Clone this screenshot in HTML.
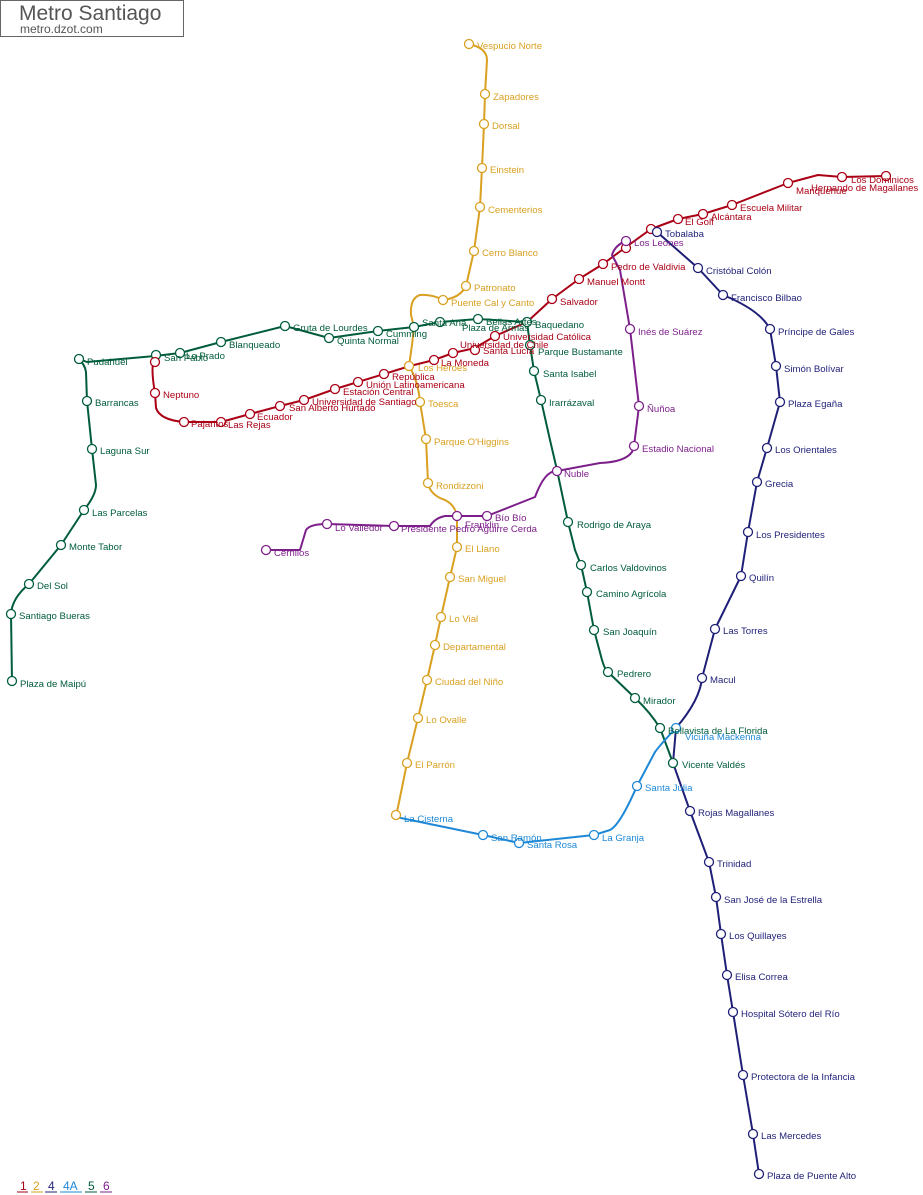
<!DOCTYPE html>
<html><head><meta charset="utf-8"><style>
html,body{margin:0;padding:0;background:#fff;}
svg{display:block;font-family:"Liberation Sans",sans-serif;font-size:9.6px;}
.st{fill:#fff;stroke-width:1.3;}
.ln{fill:none;stroke-width:2;stroke-linejoin:round;stroke-linecap:round;}
</style></head><body>
<svg width="923" height="1195" viewBox="0 0 923 1195" xmlns="http://www.w3.org/2000/svg">
<rect x="0.5" y="0.5" width="183" height="36" fill="#fff" stroke="#666"/>
<text x="19" y="20" font-size="21" fill="#555">Metro Santiago</text>
<text x="20" y="33" font-size="12" fill="#555">metro.dzot.com</text>

<!-- Line 5 green -->
<path class="ln" stroke="#005c3a" d="M12,681 L11,614 Q12,598 29,584 L61,545 L84,510 Q96,495 96,485 L92,449 L87,401 L86,372 Q85,365 79,359 M79,359 L87,362 L155,356 L180,353 L221,342 L285,326 L329,338 L378,331 L414,327 L440,322 L478,319 L527,322 L530,345 L534,371 L541,400 L550,440 L557,470 L568,522 L575,550 L581,565 L587,592 L594,630 L602,660 Q605,670 608,672 L635,698 Q650,712 660,728 L673,763"/>
<!-- Line 1 red -->
<path class="ln" stroke="#aa0016" d="M155,357 Q150,365 155,393 L156,408 Q160,420 184,422 L221,422 L250,414 L280,406 L304,400 L335,389 L358,382 L384,374 L410,366 L434,360 L453,353 L475,348 L495,336 L527,322 L552,299 L579,279 L603,264 L626,247 L651,229 L678,219 L703,214 L732,205 L788,183 L818,175 L842,177 L886,176"/>
<!-- Line 2 gold -->
<path class="ln" stroke="#d9a021" d="M469,44 Q487,48 487,60 L485,94 L484,124 L482,168 L480,207 L474,251 L466,286 Q460,298 443,300 Q432,294 420,295 Q410,298 411,315 L414,327 L412,345 L409,366 Q418,380 420,402 L426,439 L428,483 Q430,495 445,500 Q455,505 457,516 L457,547 L450,577 L441,617 L435,645 L427,680 L418,718 L407,763 L396,817"/>
<!-- Line 6 purple -->
<path class="ln" stroke="#7d1f8a" d="M266,550 L300,550 L306,530 Q310,524 327,524 L394,526 L430,526 Q435,518 445,516 L457,516 L487,516 L535,497 Q545,470 557,471 L600,463 Q625,462 632,452 L634,446 L639,406 L630,329 L620,270 L612,255 Q615,245 626,241"/>
<!-- Line 4 navy -->
<path class="ln" stroke="#1f1f78" d="M657,232 L698,268 L723,295 Q760,310 770,329 L776,366 L780,402 L767,448 L757,482 L748,532 L741,576 L715,629 L702,678 Q700,700 676,728 L673,763 L690,811 L709,862 L716,897 L721,934 L727,975 L733,1012 L743,1075 L753,1134 L759,1174"/>
<!-- Line 4A blue -->
<path class="ln" stroke="#1e88d6" d="M676,728 Q660,745 655,752 L637,786 Q620,825 610,830 L594,835 L519,843 L483,835 L396,817"/>

<g class="st" stroke="#005c3a">
<circle cx="12" cy="681" r="4.5"/><circle cx="11" cy="614" r="4.5"/><circle cx="29" cy="584" r="4.5"/><circle cx="61" cy="545" r="4.5"/><circle cx="84" cy="510" r="4.5"/><circle cx="92" cy="449" r="4.5"/><circle cx="87" cy="401" r="4.5"/><circle cx="79" cy="359" r="4.5"/><circle cx="156" cy="355" r="4.5"/><circle cx="180" cy="353" r="4.5"/><circle cx="221" cy="342" r="4.5"/><circle cx="285" cy="326" r="4.5"/><circle cx="329" cy="338" r="4.5"/><circle cx="378" cy="331" r="4.5"/><circle cx="414" cy="327" r="4.5"/><circle cx="440" cy="322" r="4.5"/><circle cx="478" cy="319" r="4.5"/><circle cx="527" cy="322" r="4.5"/><circle cx="530" cy="345" r="4.5"/><circle cx="534" cy="371" r="4.5"/><circle cx="541" cy="400" r="4.5"/><circle cx="568" cy="522" r="4.5"/><circle cx="581" cy="565" r="4.5"/><circle cx="587" cy="592" r="4.5"/><circle cx="594" cy="630" r="4.5"/><circle cx="608" cy="672" r="4.5"/><circle cx="635" cy="698" r="4.5"/><circle cx="660" cy="728" r="4.5"/><circle cx="673" cy="763" r="4.5"/>
</g>
<g class="st" stroke="#aa0016">
<circle cx="155" cy="362" r="4.5"/><circle cx="155" cy="393" r="4.5"/><circle cx="184" cy="422" r="4.5"/><circle cx="221" cy="422" r="4.5"/><circle cx="250" cy="414" r="4.5"/><circle cx="280" cy="406" r="4.5"/><circle cx="304" cy="400" r="4.5"/><circle cx="335" cy="389" r="4.5"/><circle cx="358" cy="382" r="4.5"/><circle cx="384" cy="374" r="4.5"/><circle cx="434" cy="360" r="4.5"/><circle cx="453" cy="353" r="4.5"/><circle cx="475" cy="350" r="4.5"/><circle cx="495" cy="336" r="4.5"/><circle cx="552" cy="299" r="4.5"/><circle cx="579" cy="279" r="4.5"/><circle cx="603" cy="264" r="4.5"/><circle cx="626" cy="248" r="4.5"/><circle cx="651" cy="229" r="4.5"/><circle cx="678" cy="219" r="4.5"/><circle cx="703" cy="214" r="4.5"/><circle cx="732" cy="205" r="4.5"/><circle cx="788" cy="183" r="4.5"/><circle cx="842" cy="177" r="4.5"/><circle cx="886" cy="176" r="4.5"/>
</g>
<g class="st" stroke="#d9a021">
<circle cx="469" cy="44" r="4.5"/><circle cx="485" cy="94" r="4.5"/><circle cx="484" cy="124" r="4.5"/><circle cx="482" cy="168" r="4.5"/><circle cx="480" cy="207" r="4.5"/><circle cx="474" cy="251" r="4.5"/><circle cx="466" cy="286" r="4.5"/><circle cx="443" cy="300" r="4.5"/><circle cx="409" cy="366" r="4.5"/><circle cx="420" cy="402" r="4.5"/><circle cx="426" cy="439" r="4.5"/><circle cx="428" cy="483" r="4.5"/><circle cx="457" cy="547" r="4.5"/><circle cx="450" cy="577" r="4.5"/><circle cx="441" cy="617" r="4.5"/><circle cx="435" cy="645" r="4.5"/><circle cx="427" cy="680" r="4.5"/><circle cx="418" cy="718" r="4.5"/><circle cx="407" cy="763" r="4.5"/><circle cx="396" cy="815" r="4.5"/>
</g>
<g class="st" stroke="#7d1f8a">
<circle cx="266" cy="550" r="4.5"/><circle cx="327" cy="524" r="4.5"/><circle cx="394" cy="526" r="4.5"/><circle cx="457" cy="516" r="4.5"/><circle cx="487" cy="516" r="4.5"/><circle cx="557" cy="471" r="4.5"/><circle cx="634" cy="446" r="4.5"/><circle cx="639" cy="406" r="4.5"/><circle cx="630" cy="329" r="4.5"/><circle cx="626" cy="241" r="4.5"/>
</g>
<g class="st" stroke="#1f1f78">
<circle cx="657" cy="232" r="4.5"/><circle cx="698" cy="268" r="4.5"/><circle cx="723" cy="295" r="4.5"/><circle cx="770" cy="329" r="4.5"/><circle cx="776" cy="366" r="4.5"/><circle cx="780" cy="402" r="4.5"/><circle cx="767" cy="448" r="4.5"/><circle cx="757" cy="482" r="4.5"/><circle cx="748" cy="532" r="4.5"/><circle cx="741" cy="576" r="4.5"/><circle cx="715" cy="629" r="4.5"/><circle cx="702" cy="678" r="4.5"/><circle cx="690" cy="811" r="4.5"/><circle cx="709" cy="862" r="4.5"/><circle cx="716" cy="897" r="4.5"/><circle cx="721" cy="934" r="4.5"/><circle cx="727" cy="975" r="4.5"/><circle cx="733" cy="1012" r="4.5"/><circle cx="743" cy="1075" r="4.5"/><circle cx="753" cy="1134" r="4.5"/><circle cx="759" cy="1174" r="4.5"/>
</g>
<g class="st" stroke="#1e88d6">
<circle cx="676" cy="728" r="4.5"/><circle cx="637" cy="786" r="4.5"/><circle cx="594" cy="835" r="4.5"/><circle cx="519" cy="843" r="4.5"/><circle cx="483" cy="835" r="4.5"/>
</g>

<g fill="#005c3a">
<text x="20" y="687">Plaza de Maipú</text><text x="19" y="619">Santiago Bueras</text><text x="37" y="589">Del Sol</text><text x="69" y="550">Monte Tabor</text><text x="92" y="516">Las Parcelas</text><text x="100" y="454">Laguna Sur</text><text x="95" y="406">Barrancas</text><text x="87" y="365">Pudahuel</text><text x="186" y="359">Lo Prado</text><text x="164" y="361">San Pablo</text><text x="229" y="348">Blanqueado</text><text x="293" y="331">Gruta de Lourdes</text><text x="337" y="344">Quinta Normal</text><text x="386" y="337">Cumming</text><text x="422" y="326">Santa Ana</text><text x="486" y="325">Bellas Artes</text><text x="462" y="331">Plaza de Armas</text><text x="535" y="328">Baquedano</text><text x="538" y="355">Parque Bustamante</text><text x="543" y="377">Santa Isabel</text><text x="549" y="406">Irarrázaval</text><text x="577" y="528">Rodrigo de Araya</text><text x="590" y="571">Carlos Valdovinos</text><text x="596" y="597">Camino Agrícola</text><text x="603" y="635">San Joaquín</text><text x="617" y="677">Pedrero</text><text x="643" y="704">Mirador</text><text x="668" y="734">Bellavista de La Florida</text><text x="682" y="768">Vicente Valdés</text>
</g>
<g fill="#aa0016">
<text x="163" y="398">Neptuno</text><text x="191" y="427">Pajaritos</text><text x="228" y="428">Las Rejas</text><text x="257" y="420">Ecuador</text><text x="289" y="411">San Alberto Hurtado</text><text x="312" y="405">Universidad de Santiago</text><text x="343" y="395">Estación Central</text><text x="366" y="388">Unión Latinoamericana</text><text x="392" y="380">República</text><text x="441" y="366">La Moneda</text><text x="460" y="348">Universidad de Chile</text><text x="483" y="354">Santa Lucía</text><text x="503" y="340">Universidad Católica</text><text x="560" y="305">Salvador</text><text x="587" y="285">Manuel Montt</text><text x="611" y="270">Pedro de Valdivia</text><text x="685" y="225">El Golf</text><text x="711" y="220">Alcántara</text><text x="740" y="211">Escuela Militar</text><text x="796" y="194">Manquehue</text><text x="811" y="191">Hernando de Magallanes</text><text x="851" y="183">Los Dominicos</text>
</g>
<g fill="#d9a021">
<text x="477" y="49">Vespucio Norte</text><text x="493" y="100">Zapadores</text><text x="492" y="129">Dorsal</text><text x="490" y="173">Einstein</text><text x="488" y="213">Cementerios</text><text x="482" y="256">Cerro Blanco</text><text x="474" y="291">Patronato</text><text x="451" y="306">Puente Cal y Canto</text><text x="418" y="371">Los Héroes</text><text x="428" y="407">Toesca</text><text x="434" y="445">Parque O'Higgins</text><text x="436" y="489">Rondizzoni</text><text x="465" y="552">El Llano</text><text x="458" y="582">San Miguel</text><text x="449" y="622">Lo Vial</text><text x="443" y="650">Departamental</text><text x="435" y="685">Ciudad del Niño</text><text x="426" y="723">Lo Ovalle</text><text x="415" y="768">El Parrón</text>
</g>
<g fill="#7d1f8a">
<text x="274" y="556">Cerrillos</text><text x="335" y="531">Lo Valledor</text><text x="401" y="532">Presidente Pedro Aguirre Cerda</text><text x="465" y="528">Franklin</text><text x="495" y="521">Bío Bío</text><text x="564" y="477">Ñuble</text><text x="642" y="452">Estadio Nacional</text><text x="647" y="412">Ñuñoa</text><text x="638" y="335">Inés de Suárez</text><text x="634" y="246">Los Leones</text>
</g>
<g fill="#1f1f78">
<text x="665" y="237">Tobalaba</text><text x="706" y="274">Cristóbal Colón</text><text x="731" y="301">Francisco Bilbao</text><text x="778" y="335">Príncipe de Gales</text><text x="784" y="372">Simón Bolívar</text><text x="788" y="407">Plaza Egaña</text><text x="775" y="453">Los Orientales</text><text x="765" y="487">Grecia</text><text x="756" y="538">Los Presidentes</text><text x="749" y="581">Quilín</text><text x="723" y="634">Las Torres</text><text x="710" y="683">Macul</text><text x="698" y="816">Rojas Magallanes</text><text x="717" y="867">Trinidad</text><text x="724" y="903">San José de la Estrella</text><text x="729" y="939">Los Quillayes</text><text x="735" y="980">Elisa Correa</text><text x="741" y="1017">Hospital Sótero del Río</text><text x="751" y="1080">Protectora de la Infancia</text><text x="761" y="1139">Las Mercedes</text><text x="767" y="1179">Plaza de Puente Alto</text>
</g>
<g fill="#1e88d6">
<text x="685" y="740">Vicuña Mackenna</text><text x="645" y="791">Santa Julia</text><text x="602" y="841">La Granja</text><text x="527" y="848">Santa Rosa</text><text x="491" y="841">San Ramón</text><text x="404" y="822">La Cisterna</text>
</g>

<g font-size="12">
<text x="20" y="1190" fill="#aa0016">1</text><line x1="17" y1="1192" x2="28" y2="1192" stroke="#aa0016"/>
<text x="33" y="1190" fill="#d9a021">2</text><line x1="31" y1="1192" x2="43" y2="1192" stroke="#d9a021"/>
<text x="48" y="1190" fill="#1f1f78">4</text><line x1="45" y1="1192" x2="57" y2="1192" stroke="#1f1f78"/>
<text x="63" y="1190" fill="#1e88d6">4A</text><line x1="60" y1="1192" x2="82" y2="1192" stroke="#1e88d6"/>
<text x="88" y="1190" fill="#005c3a">5</text><line x1="85" y1="1192" x2="97" y2="1192" stroke="#005c3a"/>
<text x="103" y="1190" fill="#7d1f8a">6</text><line x1="100" y1="1192" x2="112" y2="1192" stroke="#7d1f8a"/>
</g>
</svg>
</body></html>
